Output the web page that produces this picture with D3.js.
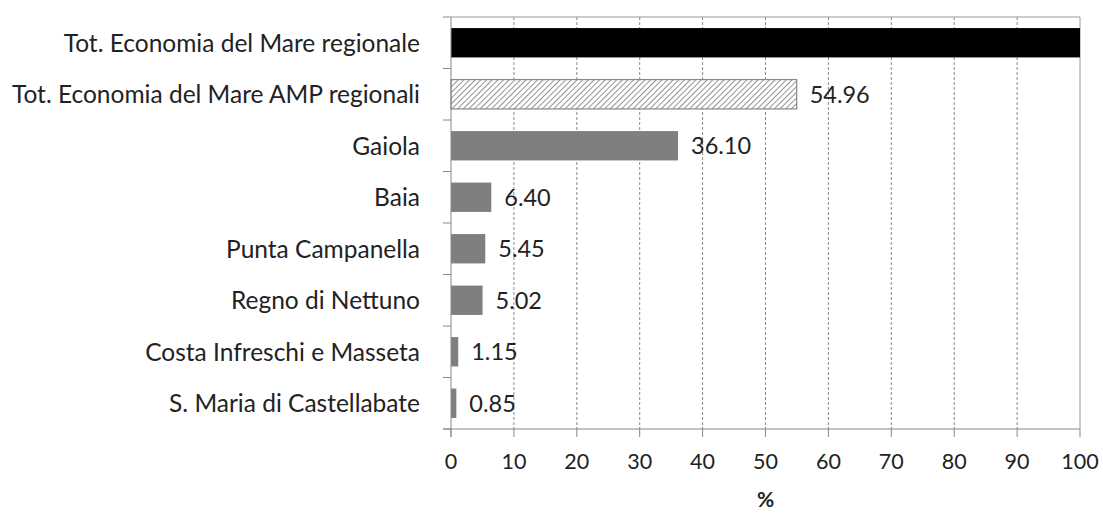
<!DOCTYPE html>
<html><head><meta charset="utf-8">
<script src="https://cdn.jsdelivr.net/npm/d3@7"></script>
<style>body{margin:0;background:#fff}svg{display:block}text{font-family:Lato,"Open Sans",sans-serif;fill:#222}</style>
</head><body>
<svg id="c" width="1103" height="513"></svg>
<script>
const categories = ["Tot. Economia del Mare regionale","Tot.  Economia del Mare AMP regionali","Gaiola","Baia","Punta Campanella","Regno di Nettuno","Costa Infreschi e Masseta","S. Maria di Castellabate"];
const values = [100, 54.96, 36.10, 6.40, 5.45, 5.02, 1.15, 0.85];
const showLabel = [false, true, true, true, true, true, true, true];
const xTicks = [0,10,20,30,40,50,60,70,80,90,100];
const xTitle = "%";

const svg = d3.select("#c");
const L = 451, R = 1080, T = 17, B = 429;
const x = d3.scaleLinear().domain([0,100]).range([L,R]);
const y = d3.scaleBand().domain(categories).range([T,B]).paddingInner(0.43).paddingOuter(0.215);
const band = d3.scaleBand().domain(categories).range([T,B]);

const rows = categories.map((c,i)=>({c, v:values[i], show:showLabel[i], i}));

const defs = svg.append("defs");
const pat = defs.append("pattern").attr("id","hatch").attr("patternUnits","userSpaceOnUse")
  .attr("width",4).attr("height",4).attr("patternTransform","rotate(45)");
pat.append("rect").attr("width",4).attr("height",4).attr("fill","#fff");
pat.append("line").attr("x1",0).attr("y1",0).attr("x2",0).attr("y2",4).attr("stroke","#777").attr("stroke-width",1.6);

// gridlines
svg.append("g").selectAll("line").data(xTicks.filter(d=>d>0 && d<100)).join("line")
  .attr("x1",d=>x(d)).attr("x2",d=>x(d)).attr("y1",T).attr("y2",B)
  .attr("stroke","#8a8a8a").attr("stroke-dasharray","3,2").attr("stroke-width",1);
// top and right border
svg.append("line").attr("x1",L).attr("x2",R).attr("y1",T).attr("y2",T).attr("stroke","#999");
svg.append("line").attr("x1",R).attr("x2",R).attr("y1",T).attr("y2",B).attr("stroke","#999");

const fills = ["#000","url(#hatch)","#7f7f7f","#7f7f7f","#7f7f7f","#7f7f7f","#7f7f7f","#7f7f7f"];
svg.append("g").selectAll("rect").data(rows).join("rect")
  .attr("x",x(0)).attr("y",d=>y(d.c)).attr("height",y.bandwidth())
  .attr("width",d=>x(d.v)-x(0)).attr("fill",d=>fills[d.i])
  .attr("stroke",d=>d.i===1?"#888":"none").attr("stroke-width",1.2);

// value labels
svg.append("g").selectAll("text").data(rows.filter(d=>d.show)).join("text")
  .attr("x",d=>x(d.v)+13).attr("y",d=>y(d.c)+y.bandwidth()/2)
  .attr("dy","0.36em").attr("font-size",23.5).text(d=>d.v.toFixed(2));

// y axis
const ya = svg.append("g");
ya.append("line").attr("x1",L).attr("x2",L).attr("y1",T).attr("y2",B+8).attr("stroke","#888");
const bounds = categories.map(c=>band(c)).concat([B]);
ya.selectAll("line.t").data(bounds).join("line").attr("class","t")
  .attr("x1",L-8).attr("x2",L).attr("y1",d=>d).attr("y2",d=>d).attr("stroke","#888");
ya.selectAll("text").data(categories).join("text")
  .attr("x",420).attr("y",d=>band(d)+band.bandwidth()/2).attr("dy","0.36em")
  .attr("text-anchor","end").attr("font-size",24.5).text(d=>d);

// x axis
const xa = svg.append("g");
xa.append("line").attr("x1",L-8).attr("x2",R).attr("y1",B).attr("y2",B).attr("stroke","#888");
xa.selectAll("line.t").data(xTicks).join("line").attr("class","t")
  .attr("x1",d=>x(d)).attr("x2",d=>x(d)).attr("y1",B).attr("y2",B+8).attr("stroke","#888");
xa.selectAll("text").data(xTicks).join("text")
  .attr("x",d=>x(d)).attr("y",469).attr("text-anchor","middle").attr("font-size",21.5).text(d=>d);
svg.append("text").attr("x",(L+R)/2).attr("y",507).attr("text-anchor","middle").attr("font-size",21).attr("font-weight","bold").text(xTitle);
</script>
</body></html>
